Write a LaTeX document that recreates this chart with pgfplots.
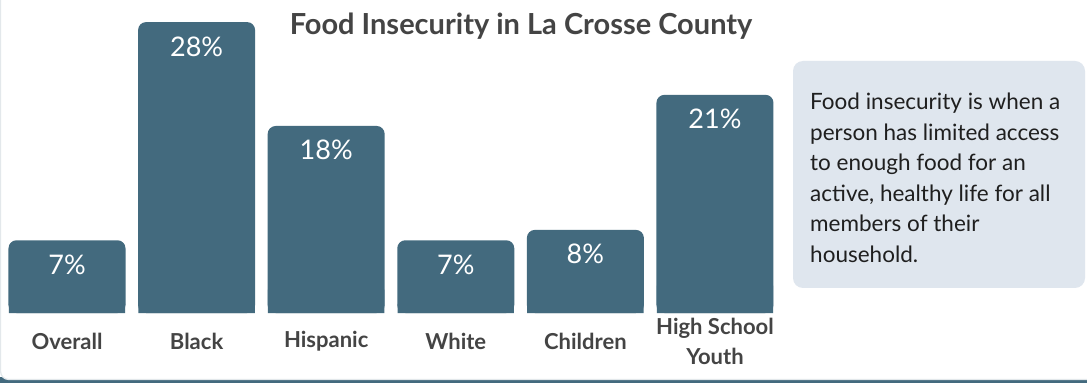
\documentclass[border=0pt]{standalone}
\usepackage{fontspec}
\setmainfont{Lato}
\usepackage{pgfplots}
\usepackage{pgfplotstable}
\pgfplotsset{compat=1.18}
\definecolor{barc}{HTML}{436A7E}
\definecolor{titlec}{HTML}{444444}
\definecolor{boxc}{HTML}{DFE6EE}
\definecolor{edgec}{HTML}{E3E8EB}
\pgfplotstableread{
x v
0 7
1 28
2 18
3 7
4 8
5 21
}\datatable
\begin{document}
\begin{tikzpicture}[x=1pt,y=1pt]
\useasboundingbox (0,0) rectangle (1087,383);
% card
\fill[barc] (0,0) rectangle (1087,6);
\filldraw[fill=white,draw=edgec,line width=1.2pt,rounded corners=8pt] (0.6,3.5) rectangle (1100,400);
% title
\node[anchor=base,font=\bfseries\fontsize{29}{34}\selectfont,text=titlec,inner sep=0pt] at (521,348) {Food Insecurity in La Crosse County};
% info box
\fill[boxc,rounded corners=10pt] (793,95) rectangle (1085,322);
\node[anchor=north west,align=left,inner sep=0pt,text=black!88,font=\fontsize{22.5}{30.5}\selectfont] at (810,290)
{Food insecurity is when a\\person has limited access\\to enough food for an\\active, healthy life for all\\members of their\\household.};
\begin{axis}[
  at={(0pt,70pt)}, anchor=south west,
  scale only axis, width=776pt, height=311.7pt,
  xmin=-0.517, xmax=5.471, ymin=0, ymax=30,
  enlargelimits=false, clip=false,
  ybar, bar width=117pt,
  /pgf/number format/assume math mode=true,
  axis line style={draw=none}, tick style={draw=none},
  ytick=\empty, xtick=data,
  xticklabels={Overall,Black,Hispanic,White,Children,{High School\\Youth}},
  xticklabel style={anchor=center, yshift=-24pt, align=center, text=titlec,
    font=\bfseries\fontsize{22}{29.5}\selectfont},
]
% rounded bars with their labels
\addplot[fill=barc, draw=none, bar shift=0pt, rounded corners=8pt,
  nodes near coords={\pgfmathprintnumber{\pgfplotspointmeta}\%},
  every node near coord/.append style={anchor=base, yshift=-34pt, text=white,
    font=\fontsize{27}{30}\selectfont, rounded corners=0pt}]
  table[x=x, y=v] {\datatable};
% square bottom corners (slightly inset so that no seam shows on the edges)
\addplot[fill=barc, draw=none, bar shift=0pt, bar width=116.4pt] table[x=x, y expr=\thisrow{v}/8] {\datatable};
\end{axis}
\end{tikzpicture}
\end{document}
